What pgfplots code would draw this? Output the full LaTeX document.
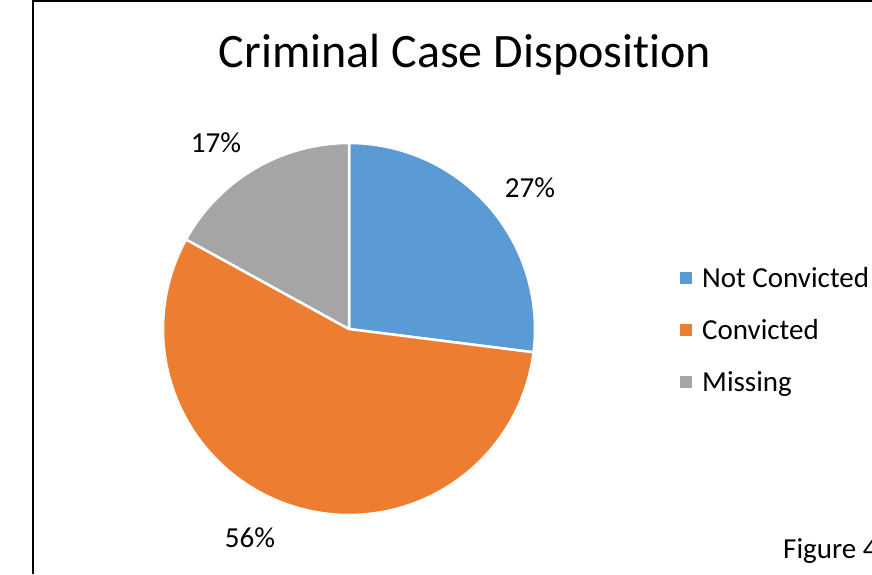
\documentclass[border=0pt]{standalone}
\usepackage{fontspec}
\setmainfont[Ligatures=NoCommon]{Carlito}
\usepackage{pgfplots}
\pgfplotsset{compat=1.18}
\definecolor{cBlue}{HTML}{5B9BD5}
\definecolor{cOrange}{HTML}{ED7D31}
\definecolor{cGray}{HTML}{A5A5A5}
\begin{document}
\begin{tikzpicture}
\pgfmathsetmacro{\vA}{27}% Not Convicted
\pgfmathsetmacro{\vB}{56}% Convicted
\pgfmathsetmacro{\vC}{17}% Missing
\pgfmathsetmacro{\aA}{90}
\pgfmathsetmacro{\aB}{90-3.6*\vA}
\pgfmathsetmacro{\aC}{\aB-3.6*\vB}
\pgfmathsetmacro{\aD}{\aC-3.6*\vC}
\begin{axis}[width=872pt,height=574pt,scale only axis,
  xmin=0,xmax=872,ymin=0,ymax=574,y dir=reverse,
  hide axis,clip=false]
% pie slices
\addplot[fill=cBlue,draw=white,line width=2.5pt,line join=round,domain=\aB:\aA,samples=100,variable=\t]
  ({349+186*cos(\t)},{329-186*sin(\t)}) -- (axis cs:349,329) -- cycle;
\addplot[fill=cOrange,draw=white,line width=2.5pt,line join=round,domain=\aC:\aB,samples=160,variable=\t]
  ({349+186*cos(\t)},{329-186*sin(\t)}) -- (axis cs:349,329) -- cycle;
\addplot[fill=cGray,draw=white,line width=2.5pt,line join=round,domain=\aD:\aC,samples=60,variable=\t]
  ({349+186*cos(\t)},{329-186*sin(\t)}) -- (axis cs:349,329) -- cycle;
% frame
\draw[line width=1.5pt,black] (axis cs:33,574) -- (axis cs:33,1) -- (axis cs:872,1);
% title
\node[anchor=base,font=\fontsize{48}{56}\selectfont] at (axis cs:465,67) {Criminal Case Disposition};
% data labels
\node[anchor=base,font=\fontsize{29}{34}\selectfont] at (axis cs:530,197) {27\%};
\node[anchor=base,font=\fontsize{29}{34}\selectfont] at (axis cs:250,547) {56\%};
\node[anchor=base,font=\fontsize{29}{34}\selectfont] at (axis cs:216,152) {17\%};
% legend
\addplot[only marks,mark=square*,mark size=5.5pt,mark options={draw=cBlue,fill=cBlue,line width=0pt}] coordinates {(686,278)};
\addplot[only marks,mark=square*,mark size=5.5pt,mark options={draw=cOrange,fill=cOrange,line width=0pt}] coordinates {(686,330)};
\addplot[only marks,mark=square*,mark size=5.5pt,mark options={draw=cGray,fill=cGray,line width=0pt}] coordinates {(686,382)};
\node[anchor=base west,inner sep=0pt,font=\fontsize{29}{34}\selectfont] at (axis cs:702,287) {Not Convicted};
\node[anchor=base west,inner sep=0pt,font=\fontsize{29}{34}\selectfont] at (axis cs:702,339) {Convicted};
\node[anchor=base west,inner sep=0pt,font=\fontsize{29}{34}\selectfont] at (axis cs:702,391) {Missing};
\node[anchor=base west,inner sep=0pt,font=\fontsize{29}{34}\selectfont] at (axis cs:783,558) {Figure 4};
\end{axis}
\pgfresetboundingbox
\path (current axis.south west) rectangle (current axis.north east);
\end{tikzpicture}
\end{document}
